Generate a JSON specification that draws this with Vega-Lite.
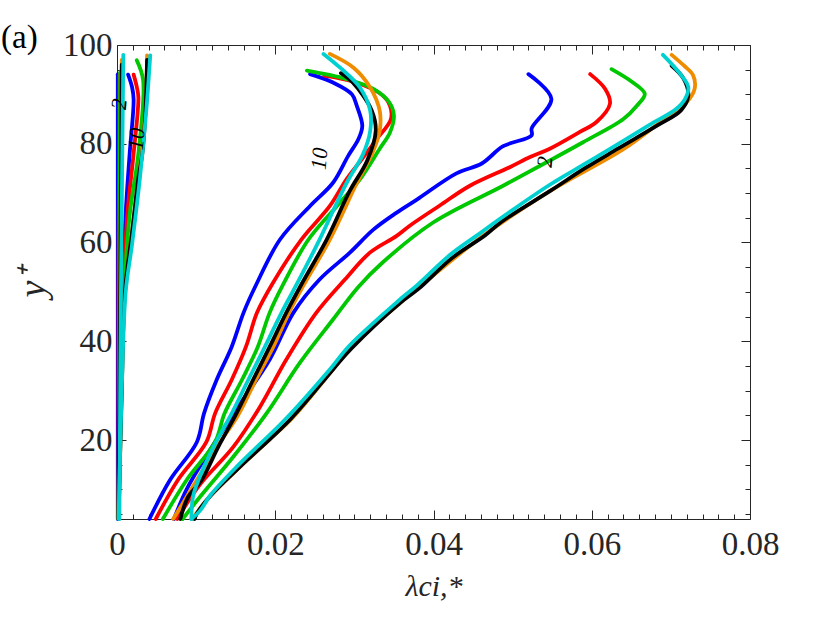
{
  "$schema": "https://vega.github.io/schema/vega-lite/v6.json",
  "width": 633,
  "height": 474,
  "autosize": {"type": "none"},
  "padding": {"left": 117, "top": 45, "right": 80, "bottom": 104},
  "background": "white",
  "config": {"view": {"stroke": "#262626", "strokeWidth": 1}},
  "title": {
    "text": "(a)",
    "anchor": "start",
    "frame": "group",
    "dx": -116,
    "dy": 52,
    "offset": 0,
    "baseline": "alphabetic",
    "font": "Liberation Serif",
    "fontSize": 33,
    "fontWeight": "normal",
    "color": "#000000"
  },
  "datasets": {
    "curves": [
      {"g": "L2", "c": "blue", "x": 0.0001, "y": 4},
      {"g": "L2", "c": "blue", "x": 0.0001, "y": 50},
      {"g": "L2", "c": "blue", "x": 0.0001, "y": 94.1},
      {"g": "L10", "c": "blue", "x": 0.0002, "y": 4},
      {"g": "L10", "c": "blue", "x": 0.0004, "y": 30},
      {"g": "L10", "c": "blue", "x": 0.0007, "y": 50},
      {"g": "L10", "c": "blue", "x": 0.0011, "y": 66},
      {"g": "L10", "c": "blue", "x": 0.0016, "y": 78},
      {"g": "L10", "c": "blue", "x": 0.0021, "y": 89},
      {"g": "L10", "c": "blue", "x": 0.0019, "y": 91.5},
      {"g": "L10", "c": "blue", "x": 0.0014, "y": 94},
      {"g": "M10", "c": "blue", "x": 0.0041, "y": 4},
      {"g": "M10", "c": "blue", "x": 0.0067, "y": 11.9},
      {"g": "M10", "c": "blue", "x": 0.0101, "y": 19.6},
      {"g": "M10", "c": "blue", "x": 0.011, "y": 25.4},
      {"g": "M10", "c": "blue", "x": 0.0126, "y": 32.2},
      {"g": "M10", "c": "blue", "x": 0.0145, "y": 38.9},
      {"g": "M10", "c": "blue", "x": 0.016, "y": 45.8},
      {"g": "M10", "c": "blue", "x": 0.0176, "y": 51.5},
      {"g": "M10", "c": "blue", "x": 0.0206, "y": 60.6},
      {"g": "M10", "c": "blue", "x": 0.0244, "y": 67.4},
      {"g": "M10", "c": "blue", "x": 0.0273, "y": 72.1},
      {"g": "M10", "c": "blue", "x": 0.0292, "y": 77.5},
      {"g": "M10", "c": "blue", "x": 0.0305, "y": 80.9},
      {"g": "M10", "c": "blue", "x": 0.031, "y": 83.6},
      {"g": "M10", "c": "blue", "x": 0.0303, "y": 87.7},
      {"g": "M10", "c": "blue", "x": 0.0297, "y": 90},
      {"g": "M10", "c": "blue", "x": 0.0273, "y": 92.4},
      {"g": "M10", "c": "blue", "x": 0.0244, "y": 94.1},
      {"g": "R2", "c": "blue", "x": 0.0072, "y": 4},
      {"g": "R2", "c": "blue", "x": 0.0088, "y": 10},
      {"g": "R2", "c": "blue", "x": 0.0115, "y": 17.3},
      {"g": "R2", "c": "blue", "x": 0.015, "y": 26},
      {"g": "R2", "c": "blue", "x": 0.0193, "y": 36.3},
      {"g": "R2", "c": "blue", "x": 0.0223, "y": 45.8},
      {"g": "R2", "c": "blue", "x": 0.0256, "y": 52.5},
      {"g": "R2", "c": "blue", "x": 0.0294, "y": 57.9},
      {"g": "R2", "c": "blue", "x": 0.0324, "y": 62.6},
      {"g": "R2", "c": "blue", "x": 0.0353, "y": 66},
      {"g": "R2", "c": "blue", "x": 0.0379, "y": 68.7},
      {"g": "R2", "c": "blue", "x": 0.0429, "y": 74},
      {"g": "R2", "c": "blue", "x": 0.0461, "y": 76},
      {"g": "R2", "c": "blue", "x": 0.0488, "y": 79.5},
      {"g": "R2", "c": "blue", "x": 0.0524, "y": 81.7},
      {"g": "R2", "c": "blue", "x": 0.0524, "y": 83.1},
      {"g": "R2", "c": "blue", "x": 0.0549, "y": 89.1},
      {"g": "R2", "c": "blue", "x": 0.052, "y": 94.1},

      {"g": "L2", "c": "red", "x": 0.0002, "y": 4},
      {"g": "L2", "c": "red", "x": 0.0002, "y": 50},
      {"g": "L2", "c": "red", "x": 0.0003, "y": 94},
      {"g": "L10", "c": "red", "x": 0.0002, "y": 4},
      {"g": "L10", "c": "red", "x": 0.0005, "y": 30},
      {"g": "L10", "c": "red", "x": 0.0008, "y": 50},
      {"g": "L10", "c": "red", "x": 0.0013, "y": 65.6},
      {"g": "L10", "c": "red", "x": 0.0021, "y": 78},
      {"g": "L10", "c": "red", "x": 0.0027, "y": 89.4},
      {"g": "L10", "c": "red", "x": 0.0025, "y": 91.5},
      {"g": "L10", "c": "red", "x": 0.0021, "y": 94},
      {"g": "M10", "c": "red", "x": 0.0049, "y": 4},
      {"g": "M10", "c": "red", "x": 0.0077, "y": 11.9},
      {"g": "M10", "c": "red", "x": 0.0113, "y": 19.6},
      {"g": "M10", "c": "red", "x": 0.0124, "y": 25.4},
      {"g": "M10", "c": "red", "x": 0.0145, "y": 32.2},
      {"g": "M10", "c": "red", "x": 0.0163, "y": 38.9},
      {"g": "M10", "c": "red", "x": 0.0177, "y": 45.8},
      {"g": "M10", "c": "red", "x": 0.0197, "y": 51.8},
      {"g": "M10", "c": "red", "x": 0.0233, "y": 60.6},
      {"g": "M10", "c": "red", "x": 0.0269, "y": 67.4},
      {"g": "M10", "c": "red", "x": 0.029, "y": 72.8},
      {"g": "M10", "c": "red", "x": 0.031, "y": 77},
      {"g": "M10", "c": "red", "x": 0.0328, "y": 80.9},
      {"g": "M10", "c": "red", "x": 0.0346, "y": 84.9},
      {"g": "M10", "c": "red", "x": 0.0345, "y": 87.7},
      {"g": "M10", "c": "red", "x": 0.0334, "y": 90},
      {"g": "M10", "c": "red", "x": 0.03, "y": 92.5},
      {"g": "M10", "c": "red", "x": 0.0262, "y": 93.8},
      {"g": "R2", "c": "red", "x": 0.0076, "y": 4},
      {"g": "R2", "c": "red", "x": 0.0105, "y": 11},
      {"g": "R2", "c": "red", "x": 0.0147, "y": 18.6},
      {"g": "R2", "c": "red", "x": 0.0181, "y": 26.8},
      {"g": "R2", "c": "red", "x": 0.0214, "y": 36.3},
      {"g": "R2", "c": "red", "x": 0.0252, "y": 45.8},
      {"g": "R2", "c": "red", "x": 0.0288, "y": 52.5},
      {"g": "R2", "c": "red", "x": 0.032, "y": 58},
      {"g": "R2", "c": "red", "x": 0.0353, "y": 61.3},
      {"g": "R2", "c": "red", "x": 0.037, "y": 63.4},
      {"g": "R2", "c": "red", "x": 0.0408, "y": 67.5},
      {"g": "R2", "c": "red", "x": 0.0446, "y": 71.5},
      {"g": "R2", "c": "red", "x": 0.0497, "y": 75.3},
      {"g": "R2", "c": "red", "x": 0.0522, "y": 77.3},
      {"g": "R2", "c": "red", "x": 0.0547, "y": 79},
      {"g": "R2", "c": "red", "x": 0.0585, "y": 82.4},
      {"g": "R2", "c": "red", "x": 0.0606, "y": 84.4},
      {"g": "R2", "c": "red", "x": 0.0623, "y": 88.1},
      {"g": "R2", "c": "red", "x": 0.0617, "y": 91.1},
      {"g": "R2", "c": "red", "x": 0.0598, "y": 94.1},

      {"g": "L2", "c": "green", "x": 0.0002, "y": 4},
      {"g": "L2", "c": "green", "x": 0.0003, "y": 50},
      {"g": "L2", "c": "green", "x": 0.0004, "y": 94.5},
      {"g": "L10", "c": "green", "x": 0.0002, "y": 4},
      {"g": "L10", "c": "green", "x": 0.0005, "y": 30},
      {"g": "L10", "c": "green", "x": 0.0009, "y": 50},
      {"g": "L10", "c": "green", "x": 0.0016, "y": 65.6},
      {"g": "L10", "c": "green", "x": 0.0027, "y": 78},
      {"g": "L10", "c": "green", "x": 0.0033, "y": 92.9},
      {"g": "L10", "c": "green", "x": 0.0025, "y": 96.9},
      {"g": "M10", "c": "green", "x": 0.0058, "y": 4},
      {"g": "M10", "c": "green", "x": 0.0088, "y": 11.9},
      {"g": "M10", "c": "green", "x": 0.0124, "y": 19.6},
      {"g": "M10", "c": "green", "x": 0.0136, "y": 25.4},
      {"g": "M10", "c": "green", "x": 0.0158, "y": 32.2},
      {"g": "M10", "c": "green", "x": 0.0178, "y": 38.9},
      {"g": "M10", "c": "green", "x": 0.0193, "y": 45.8},
      {"g": "M10", "c": "green", "x": 0.021, "y": 51.5},
      {"g": "M10", "c": "green", "x": 0.0242, "y": 60.6},
      {"g": "M10", "c": "green", "x": 0.0278, "y": 67.4},
      {"g": "M10", "c": "green", "x": 0.0307, "y": 72.8},
      {"g": "M10", "c": "green", "x": 0.0332, "y": 79},
      {"g": "M10", "c": "green", "x": 0.0345, "y": 82.3},
      {"g": "M10", "c": "green", "x": 0.035, "y": 85.7},
      {"g": "M10", "c": "green", "x": 0.0344, "y": 88.4},
      {"g": "M10", "c": "green", "x": 0.0324, "y": 91.1},
      {"g": "M10", "c": "green", "x": 0.029, "y": 93.1},
      {"g": "M10", "c": "green", "x": 0.024, "y": 94.8},
      {"g": "R2", "c": "green", "x": 0.0083, "y": 4},
      {"g": "R2", "c": "green", "x": 0.0105, "y": 8.5},
      {"g": "R2", "c": "green", "x": 0.0147, "y": 16.6},
      {"g": "R2", "c": "green", "x": 0.0189, "y": 25.4},
      {"g": "R2", "c": "green", "x": 0.0231, "y": 35.6},
      {"g": "R2", "c": "green", "x": 0.0273, "y": 44.4},
      {"g": "R2", "c": "green", "x": 0.0305, "y": 51},
      {"g": "R2", "c": "green", "x": 0.0336, "y": 56},
      {"g": "R2", "c": "green", "x": 0.04, "y": 64.1},
      {"g": "R2", "c": "green", "x": 0.0488, "y": 71.5},
      {"g": "R2", "c": "green", "x": 0.0547, "y": 76.6},
      {"g": "R2", "c": "green", "x": 0.0589, "y": 80.3},
      {"g": "R2", "c": "green", "x": 0.064, "y": 85},
      {"g": "R2", "c": "green", "x": 0.0657, "y": 87.7},
      {"g": "R2", "c": "green", "x": 0.0667, "y": 90.1},
      {"g": "R2", "c": "green", "x": 0.0652, "y": 92.4},
      {"g": "R2", "c": "green", "x": 0.0625, "y": 95.1},

      {"g": "L2", "c": "orange", "x": 0.0002, "y": 4},
      {"g": "L2", "c": "orange", "x": 0.0004, "y": 50},
      {"g": "L2", "c": "orange", "x": 0.0006, "y": 97},
      {"g": "L10", "c": "orange", "x": 0.0002, "y": 4},
      {"g": "L10", "c": "orange", "x": 0.0006, "y": 30},
      {"g": "L10", "c": "orange", "x": 0.001, "y": 50},
      {"g": "L10", "c": "orange", "x": 0.0019, "y": 62},
      {"g": "L10", "c": "orange", "x": 0.0031, "y": 78},
      {"g": "L10", "c": "orange", "x": 0.0036, "y": 86.7},
      {"g": "L10", "c": "orange", "x": 0.0038, "y": 97.9},
      {"g": "M10", "c": "orange", "x": 0.0071, "y": 4},
      {"g": "M10", "c": "orange", "x": 0.009, "y": 9},
      {"g": "M10", "c": "orange", "x": 0.0128, "y": 19},
      {"g": "M10", "c": "orange", "x": 0.0153, "y": 25},
      {"g": "M10", "c": "orange", "x": 0.0175, "y": 32},
      {"g": "M10", "c": "orange", "x": 0.0198, "y": 39},
      {"g": "M10", "c": "orange", "x": 0.0218, "y": 46},
      {"g": "M10", "c": "orange", "x": 0.0235, "y": 51.1},
      {"g": "M10", "c": "orange", "x": 0.0269, "y": 60.6},
      {"g": "M10", "c": "orange", "x": 0.0303, "y": 72},
      {"g": "M10", "c": "orange", "x": 0.0324, "y": 78.6},
      {"g": "M10", "c": "orange", "x": 0.0332, "y": 82.6},
      {"g": "M10", "c": "orange", "x": 0.0332, "y": 86.7},
      {"g": "M10", "c": "orange", "x": 0.032, "y": 91.4},
      {"g": "M10", "c": "orange", "x": 0.0299, "y": 95.4},
      {"g": "M10", "c": "orange", "x": 0.0269, "y": 98.2},
      {"g": "R2", "c": "orange", "x": 0.0095, "y": 4},
      {"g": "R2", "c": "orange", "x": 0.0117, "y": 8.5},
      {"g": "R2", "c": "orange", "x": 0.0155, "y": 14.5},
      {"g": "R2", "c": "orange", "x": 0.0192, "y": 20},
      {"g": "R2", "c": "orange", "x": 0.0222, "y": 24.5},
      {"g": "R2", "c": "orange", "x": 0.0273, "y": 34.3},
      {"g": "R2", "c": "orange", "x": 0.0294, "y": 38.5},
      {"g": "R2", "c": "orange", "x": 0.0358, "y": 47.8},
      {"g": "R2", "c": "orange", "x": 0.0379, "y": 50.6},
      {"g": "R2", "c": "orange", "x": 0.0463, "y": 61.4},
      {"g": "R2", "c": "orange", "x": 0.0547, "y": 70.4},
      {"g": "R2", "c": "orange", "x": 0.064, "y": 78.9},
      {"g": "R2", "c": "orange", "x": 0.0682, "y": 83.8},
      {"g": "R2", "c": "orange", "x": 0.072, "y": 88.4},
      {"g": "R2", "c": "orange", "x": 0.073, "y": 91.1},
      {"g": "R2", "c": "orange", "x": 0.0728, "y": 93.9},
      {"g": "R2", "c": "orange", "x": 0.0716, "y": 95.9},
      {"g": "R2", "c": "orange", "x": 0.0701, "y": 98},

      {"g": "L2", "c": "black", "x": 0.0002, "y": 4},
      {"g": "L2", "c": "black", "x": 0.0004, "y": 50},
      {"g": "L2", "c": "black", "x": 0.0006, "y": 96},
      {"g": "L10", "c": "black", "x": 0.0002, "y": 4},
      {"g": "L10", "c": "black", "x": 0.0006, "y": 30},
      {"g": "L10", "c": "black", "x": 0.001, "y": 50},
      {"g": "L10", "c": "black", "x": 0.0019, "y": 62},
      {"g": "L10", "c": "black", "x": 0.0027, "y": 73},
      {"g": "L10", "c": "black", "x": 0.0032, "y": 78},
      {"g": "L10", "c": "black", "x": 0.0036, "y": 86.7},
      {"g": "L10", "c": "black", "x": 0.0038, "y": 97},
      {"g": "M10", "c": "black", "x": 0.008, "y": 4},
      {"g": "M10", "c": "black", "x": 0.009, "y": 8.5},
      {"g": "M10", "c": "black", "x": 0.0107, "y": 11.9},
      {"g": "M10", "c": "black", "x": 0.0128, "y": 18.6},
      {"g": "M10", "c": "black", "x": 0.0151, "y": 25.4},
      {"g": "M10", "c": "black", "x": 0.0172, "y": 32.2},
      {"g": "M10", "c": "black", "x": 0.0193, "y": 38.9},
      {"g": "M10", "c": "black", "x": 0.0214, "y": 45.8},
      {"g": "M10", "c": "black", "x": 0.0233, "y": 51.5},
      {"g": "M10", "c": "black", "x": 0.0265, "y": 60.6},
      {"g": "M10", "c": "black", "x": 0.0294, "y": 70.4},
      {"g": "M10", "c": "black", "x": 0.0316, "y": 76.5},
      {"g": "M10", "c": "black", "x": 0.0327, "y": 82.6},
      {"g": "M10", "c": "black", "x": 0.0322, "y": 86.7},
      {"g": "M10", "c": "black", "x": 0.0298, "y": 92.4},
      {"g": "M10", "c": "black", "x": 0.0283, "y": 94.3},
      {"g": "R2", "c": "black", "x": 0.0098, "y": 4},
      {"g": "R2", "c": "black", "x": 0.0101, "y": 5.1},
      {"g": "R2", "c": "black", "x": 0.0117, "y": 8.5},
      {"g": "R2", "c": "black", "x": 0.0155, "y": 14.5},
      {"g": "R2", "c": "black", "x": 0.0218, "y": 24},
      {"g": "R2", "c": "black", "x": 0.0273, "y": 34.3},
      {"g": "R2", "c": "black", "x": 0.0296, "y": 38.5},
      {"g": "R2", "c": "black", "x": 0.0358, "y": 47.8},
      {"g": "R2", "c": "black", "x": 0.0381, "y": 50.6},
      {"g": "R2", "c": "black", "x": 0.0423, "y": 56.8},
      {"g": "R2", "c": "black", "x": 0.0465, "y": 61.4},
      {"g": "R2", "c": "black", "x": 0.0486, "y": 64.2},
      {"g": "R2", "c": "black", "x": 0.0549, "y": 70.6},
      {"g": "R2", "c": "black", "x": 0.0591, "y": 75},
      {"g": "R2", "c": "black", "x": 0.0633, "y": 79},
      {"g": "R2", "c": "black", "x": 0.0684, "y": 83.8},
      {"g": "R2", "c": "black", "x": 0.0713, "y": 86.8},
      {"g": "R2", "c": "black", "x": 0.0722, "y": 89.8},
      {"g": "R2", "c": "black", "x": 0.0716, "y": 93.2},
      {"g": "R2", "c": "black", "x": 0.0701, "y": 95.8},

      {"g": "L2", "c": "cyan", "x": 0.0003, "y": 4},
      {"g": "L2", "c": "cyan", "x": 0.0005, "y": 50},
      {"g": "L2", "c": "cyan", "x": 0.0008, "y": 98},
      {"g": "L10", "c": "cyan", "x": 0.0002, "y": 4},
      {"g": "L10", "c": "cyan", "x": 0.0006, "y": 30},
      {"g": "L10", "c": "cyan", "x": 0.0011, "y": 50},
      {"g": "L10", "c": "cyan", "x": 0.0019, "y": 59.6},
      {"g": "L10", "c": "cyan", "x": 0.0029, "y": 73.1},
      {"g": "L10", "c": "cyan", "x": 0.0037, "y": 86.7},
      {"g": "L10", "c": "cyan", "x": 0.0042, "y": 97.9},
      {"g": "M10", "c": "cyan", "x": 0.0094, "y": 4},
      {"g": "M10", "c": "cyan", "x": 0.0096, "y": 8.5},
      {"g": "M10", "c": "cyan", "x": 0.0103, "y": 11.9},
      {"g": "M10", "c": "cyan", "x": 0.0122, "y": 18.6},
      {"g": "M10", "c": "cyan", "x": 0.0145, "y": 25.4},
      {"g": "M10", "c": "cyan", "x": 0.0166, "y": 32.2},
      {"g": "M10", "c": "cyan", "x": 0.0187, "y": 38.9},
      {"g": "M10", "c": "cyan", "x": 0.0208, "y": 45.8},
      {"g": "M10", "c": "cyan", "x": 0.0228, "y": 51.8},
      {"g": "M10", "c": "cyan", "x": 0.0256, "y": 60.6},
      {"g": "M10", "c": "cyan", "x": 0.029, "y": 72},
      {"g": "M10", "c": "cyan", "x": 0.0311, "y": 77.9},
      {"g": "M10", "c": "cyan", "x": 0.032, "y": 82.6},
      {"g": "M10", "c": "cyan", "x": 0.032, "y": 86.7},
      {"g": "M10", "c": "cyan", "x": 0.0307, "y": 91.4},
      {"g": "M10", "c": "cyan", "x": 0.0282, "y": 95.4},
      {"g": "M10", "c": "cyan", "x": 0.0261, "y": 98.2},
      {"g": "R2", "c": "cyan", "x": 0.0094, "y": 4},
      {"g": "R2", "c": "cyan", "x": 0.0105, "y": 5.7},
      {"g": "R2", "c": "cyan", "x": 0.0118, "y": 8.8},
      {"g": "R2", "c": "cyan", "x": 0.0152, "y": 14.7},
      {"g": "R2", "c": "cyan", "x": 0.0214, "y": 24.4},
      {"g": "R2", "c": "cyan", "x": 0.027, "y": 34.5},
      {"g": "R2", "c": "cyan", "x": 0.0293, "y": 39},
      {"g": "R2", "c": "cyan", "x": 0.0355, "y": 48.1},
      {"g": "R2", "c": "cyan", "x": 0.0379, "y": 51.3},
      {"g": "R2", "c": "cyan", "x": 0.0421, "y": 57.5},
      {"g": "R2", "c": "cyan", "x": 0.046, "y": 62},
      {"g": "R2", "c": "cyan", "x": 0.0484, "y": 64.8},
      {"g": "R2", "c": "cyan", "x": 0.0547, "y": 71.7},
      {"g": "R2", "c": "cyan", "x": 0.0589, "y": 75.7},
      {"g": "R2", "c": "cyan", "x": 0.0631, "y": 79.7},
      {"g": "R2", "c": "cyan", "x": 0.0673, "y": 83.8},
      {"g": "R2", "c": "cyan", "x": 0.0707, "y": 87.1},
      {"g": "R2", "c": "cyan", "x": 0.0718, "y": 89.1},
      {"g": "R2", "c": "cyan", "x": 0.0722, "y": 91.5},
      {"g": "R2", "c": "cyan", "x": 0.0711, "y": 94.3},
      {"g": "R2", "c": "cyan", "x": 0.069, "y": 98}
    ],
    "labels": [
      {"x": 0.0003, "y": 88, "label": "2"},
      {"x": 0.0025, "y": 81, "label": "10"},
      {"x": 0.0256, "y": 77, "label": "10"},
      {"x": 0.0541, "y": 76.3, "label": "2"}
    ]
  },
  "resolve": {"axis": {"x": "independent", "y": "independent"}},
  "layer": [
    {
      "data": {"name": "curves"},
      "mark": {"type": "line", "strokeWidth": 3.8, "strokeJoin": "round", "strokeCap": "round", "interpolate": "catmull-rom"},
      "encoding": {
        "x": {
          "field": "x",
          "type": "quantitative",
          "scale": {"domain": [0, 0.08], "nice": false, "zero": false},
          "axis": {
            "orient": "bottom",
            "title": "λci,*",
            "titleFont": "Liberation Serif",
            "titleFontStyle": "italic",
            "titleFontWeight": "normal",
            "titleFontSize": 30,
            "titleColor": "#262626",
            "titlePadding": 6,
            "tickCount": 40,
            "domain": false,
            "grid": false,
            "tickColor": "#262626",
            "tickSize": {"condition": {"test": "abs(datum.value*50 - round(datum.value*50)) < 0.000001", "value": -9}, "value": -5},
            "labelExpr": "abs(datum.value*50 - round(datum.value*50)) < 0.000001 ? format(datum.value, '~g') : ''",
            "labelFont": "Liberation Serif",
            "labelFontSize": 33,
            "labelColor": "#262626",
            "labelPadding": 18,
            "labelOverlap": false,
            "labelFlush": false
          }
        },
        "y": {
          "field": "y",
          "type": "quantitative",
          "scale": {"domain": [4, 100], "nice": false, "zero": false},
          "axis": {
            "orient": "left",
            "title": "y⁺",
            "titleFont": "Liberation Serif",
            "titleFontStyle": "italic",
            "titleFontWeight": "normal",
            "titleFontSize": 38,
            "titleColor": "#262626",
            "titlePadding": 10,
            "tickCount": 20,
            "domain": false,
            "grid": false,
            "tickColor": "#262626",
            "tickSize": {"condition": {"test": "datum.value % 20 == 0", "value": -9}, "value": -5},
            "labelExpr": "datum.value % 20 == 0 ? datum.value : ''",
            "labelFont": "Liberation Serif",
            "labelFontSize": 33,
            "labelColor": "#262626",
            "labelPadding": 14,
            "labelOverlap": false,
            "labelFlush": false
          }
        },
        "color": {
          "field": "c",
          "type": "nominal",
          "legend": null,
          "scale": {
            "domain": ["blue", "red", "green", "orange", "black", "cyan"],
            "range": ["#0000ff", "#ff0000", "#00c800", "#f08c00", "#000000", "#00d0d0"]
          }
        },
        "detail": {"field": "g"},
        "order": {"field": "y", "type": "quantitative"}
      }
    },
    {
      "data": {"name": "labels"},
      "mark": {
        "type": "text",
        "angle": 275,
        "font": "Liberation Serif",
        "fontStyle": "italic",
        "fontSize": 22,
        "color": "#000000"
      },
      "encoding": {
        "x": {
          "field": "x",
          "type": "quantitative",
          "scale": {"domain": [0, 0.08], "nice": false, "zero": false},
          "axis": {
            "orient": "top",
            "title": null,
            "labels": false,
            "domain": false,
            "grid": false,
            "tickCount": 40,
            "tickColor": "#262626",
            "tickSize": {"condition": {"test": "abs(datum.value*50 - round(datum.value*50)) < 0.000001", "value": -9}, "value": -5}
          }
        },
        "y": {
          "field": "y",
          "type": "quantitative",
          "scale": {"domain": [4, 100], "nice": false, "zero": false},
          "axis": {
            "orient": "right",
            "title": null,
            "labels": false,
            "domain": false,
            "grid": false,
            "tickCount": 20,
            "tickColor": "#262626",
            "tickSize": {"condition": {"test": "datum.value % 20 == 0", "value": -9}, "value": -5}
          }
        },
        "text": {"field": "label"}
      }
    }
  ]
}
